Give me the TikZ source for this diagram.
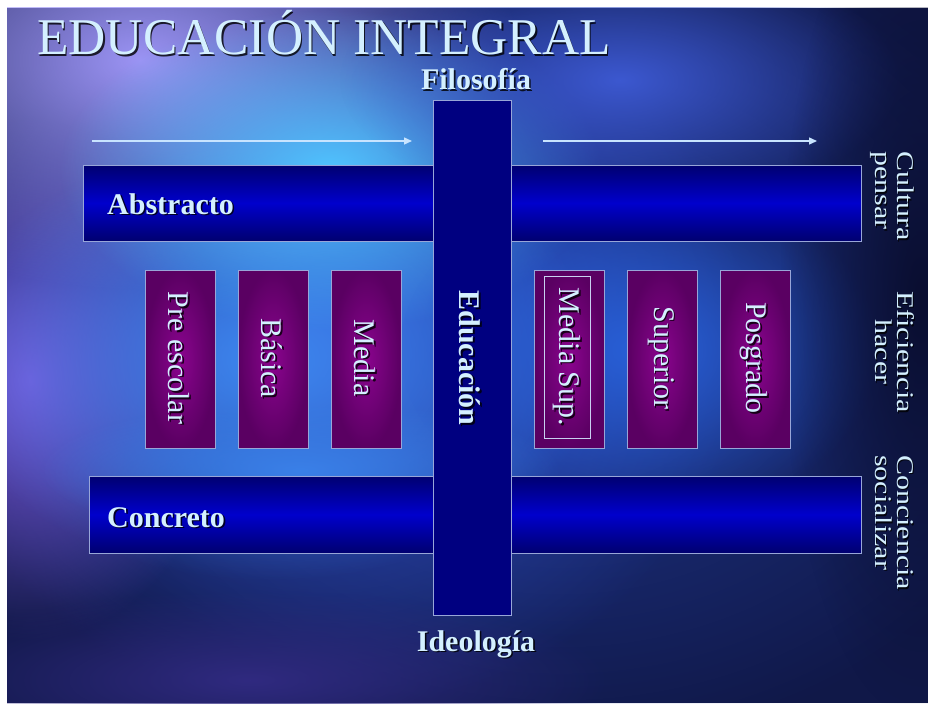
\documentclass[tikz,border=0pt]{standalone}
\usepackage{fontspec}
\usepackage{graphicx}
\setmainfont{Liberation Serif}
\usetikzlibrary{fadings,arrows.meta}
\definecolor{txt}{HTML}{D4F0FF}
\definecolor{bgbase}{HTML}{101848}
\definecolor{navy}{HTML}{000080}
\definecolor{bardark}{HTML}{000070}
\definecolor{barmid}{HTML}{0000CC}
\definecolor{edge}{HTML}{98A6D8}
\definecolor{purpin}{HTML}{8A048E}
\definecolor{purpout}{HTML}{5A0062}
\definecolor{arrowc}{HTML}{C8E4FF}
\definecolor{inner}{HTML}{C8D0F0}
\definecolor{bA}{HTML}{203890}
\definecolor{bB}{HTML}{3050C8}
\definecolor{bC}{HTML}{7A58D8}
\definecolor{bD}{HTML}{9C94F4}
\definecolor{bE}{HTML}{3E88F0}
\definecolor{bF}{HTML}{50C4FF}
\definecolor{bG}{HTML}{3C58D0}
\definecolor{bH}{HTML}{2860D8}
\definecolor{bI}{HTML}{3A80E8}
\definecolor{bJ}{HTML}{302A80}
\definecolor{bK}{HTML}{0A0E30}
\tikzfading[name=blob, inner color=transparent!0, outer color=transparent!100]
\newcommand\shtxt[4]{%
  \node[#2, shadowtxt] (#1s) at ([shift={(1.6,1.6)}]#3) {#4};
  \node[#2] (#1) at (#3) {#4};}
\newcommand\sq[1]{\scalebox{1}[0.8]{#1}}
\begin{document}
\begin{tikzpicture}[x=1pt,y=-1pt,
  lbl/.style={text=txt, inner sep=0pt, font=\fontsize{30}{30}\selectfont},
  blbl/.style={text=txt, inner sep=0pt, font=\fontsize{30}{30}\selectfont\bfseries},
  shadowtxt/.style={text=black, opacity=0.8},
  bar/.style={draw=edge, line width=1pt, top color=bardark, bottom color=bardark, middle color=barmid},
  level/.style={draw=edge, line width=1pt, inner color=purpin, outer color=purpout},
  arr/.style={draw=arrowc, line width=1.4pt, -{Triangle[length=8pt,width=7pt]}},
  blobf/.style={path fading=blob}]
\useasboundingbox (0,0) rectangle (928,706);
\fill[white] (0,0) rectangle (928,706);
% background
\begin{scope}
\clip (7,8) rectangle (928,703);
\fill[bgbase] (7,8) rectangle (928,703);
\fill[bA, blobf] (560,330) ellipse (520 and 420);
\fill[bB, blobf] (330,330) ellipse (420 and 380);
\fill[bC, blobf] (30,380) ellipse (200 and 260);
\fill[bD, blobf] (140,60) ellipse (380 and 230);
\fill[bE, blobf] (270,360) ellipse (330 and 220);
\fill[bF, blobf] (330,170) ellipse (270 and 160);
\fill[bG, blobf] (620,80) ellipse (280 and 130);
\fill[bH, blobf] (640,350) ellipse (240 and 170);
\fill[bI, blobf] (300,470) ellipse (260 and 70);
\fill[bJ, blobf] (250,680) ellipse (360 and 90);
\fill[bK, blobf] (920,300) ellipse (140 and 420);
\end{scope}
% arrows
\coordinate (a1s) at (92,141);
\coordinate (a1e) at (412,141);
\coordinate (a2s) at (543,141);
\coordinate (a2e) at (817,141);
\draw[arr] (a1s) -- (a1e);
\draw[arr] (a2s) -- (a2e);
% bars
\path[bar] (83,165) rectangle (861,241);
\path[bar] (89,476) rectangle (861,553);
\node[draw=edge, line width=1pt, fill=navy, minimum width=78pt, minimum height=514pt, inner sep=0pt] (edu) at (472,358) {};
% levels
\foreach \n/\x in {pre/145, bas/238, med/331, msu/534, sup/627, pos/720}{
  \path[level] (\x,270) rectangle ++(70,178) coordinate (\n);
}
\draw[draw=inner, line width=0.9pt] (544,276) rectangle (590,438);
% texts
\shtxt{title}{text=txt, inner sep=0pt, anchor=base west, font=\fontsize{51.5}{51.5}\selectfont}{37,55}{EDUCACIÓN INTEGRAL}
\shtxt{filo}{blbl, anchor=base}{476,90}{Filosofía}
\shtxt{ideo}{blbl, anchor=base}{476,651}{Ideología}
\shtxt{abst}{blbl, anchor=base west}{107,214}{Abstracto}
\shtxt{conc}{blbl, anchor=base west}{107,527}{Concreto}
\shtxt{edut}{blbl, rotate=-90}{470,358}{Educación}
\shtxt{tpre}{lbl, rotate=-90}{179,358}{Pre escolar}
\shtxt{tbas}{lbl, rotate=-90}{272,358}{Básica}
\shtxt{tmed}{lbl, rotate=-90}{365,358}{Media}
\shtxt{tmsu}{lbl, rotate=-90}{567,357}{Media Sup.}
\shtxt{tsup}{lbl, rotate=-90}{661,358}{Superior}
\shtxt{tpos}{lbl, rotate=-90}{754,358}{Posgrado}
\shtxt{cul}{lbl, rotate=-90, anchor=base west}{897,151}{\sq{Cultura}}
\shtxt{pen}{lbl, rotate=-90, anchor=base west}{875,151}{\sq{pensar}}
\shtxt{efi}{lbl, rotate=-90, anchor=base}{897,352}{\sq{Eficiencia}}
\shtxt{hac}{lbl, rotate=-90, anchor=base}{875,352}{\sq{hacer}}
\shtxt{coc}{lbl, rotate=-90, anchor=base west}{897,455}{\sq{Conciencia}}
\shtxt{soc}{lbl, rotate=-90, anchor=base west}{875,455}{\sq{socializar}}
\end{tikzpicture}
\end{document}
